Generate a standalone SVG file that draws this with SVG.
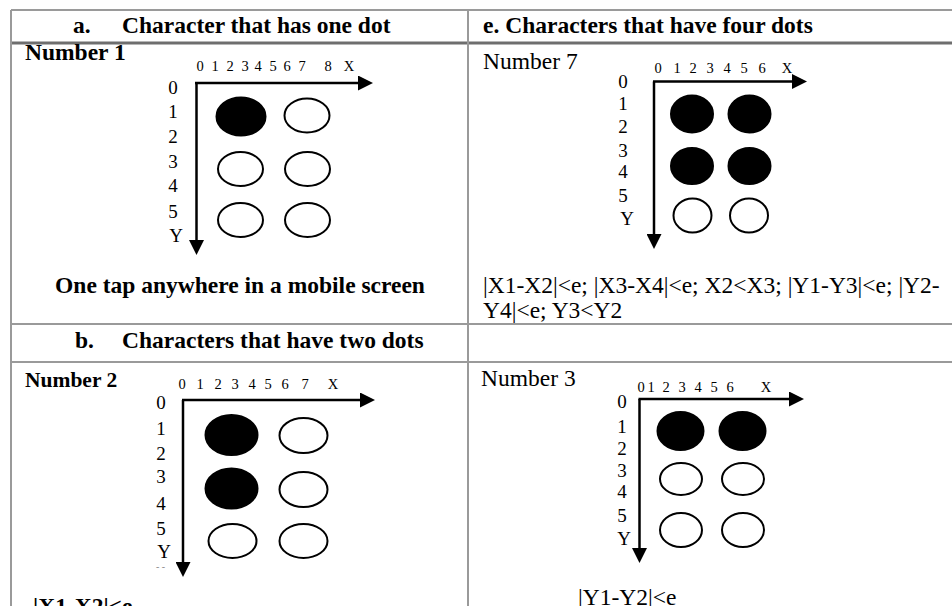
<svg xmlns="http://www.w3.org/2000/svg" width="952" height="606" viewBox="0 0 952 606">
<defs>
<style>
.t{font-family:"Liberation Serif","Times New Roman",serif;fill:#000}
.b{font-weight:bold}
.h{font-size:23.5px}
.ax{font-size:14.5px}
.yl{font-size:19px}
.grid{stroke:#9a9a9a;stroke-width:2;fill:none}
.thick{stroke:#6e6e6e;stroke-width:3;fill:none}
.axis{stroke:#000;stroke-width:2.5;fill:none;marker-end:url(#arr)}
.on{fill:#000;stroke:#000;stroke-width:2}
.off{fill:#fff;stroke:#000;stroke-width:2}
</style>
<marker id="arr" viewBox="0 0 15 15" refX="11" refY="7.5" markerWidth="15" markerHeight="15" markerUnits="userSpaceOnUse" orient="auto">
<path d="M0,0 L15,7.5 L0,15 z" fill="#000"/>
</marker>
</defs>
<rect width="952" height="606" fill="#fff"/>

<g id="table">
<line class="grid" x1="11" y1="10" x2="952" y2="10"/>
<line class="thick" x1="11" y1="43" x2="952" y2="43"/>
<line class="grid" x1="11" y1="324" x2="952" y2="324"/>
<line class="grid" x1="11" y1="362" x2="952" y2="362"/>
<line class="grid" x1="11" y1="10" x2="11" y2="606"/>
<line class="grid" x1="468" y1="10" x2="468" y2="606"/>
</g>

<g id="headers">
<text class="t b h" x="73" y="33">a.</text>
<text class="t b h" x="122" y="33">Character that has one dot</text>
<text class="t b h" x="483" y="33">e. Characters that have four dots</text>
<text class="t b h" x="75" y="348">b.</text>
<text class="t b h" x="122" y="348">Characters that have two dots</text>
</g>

<g id="panel-number1">
<text class="t b h" x="25" y="60">Number 1</text>
<text class="t ax" text-anchor="middle" x="200 207 215 222 230 237 245 251 258 265 273 280 287 294 302 315 328 338 349" y="71">0 1 2 3 4 5 6 7 8 X</text>
<text class="t yl" text-anchor="middle" x="173" y="94">0</text>
<text class="t yl" text-anchor="middle" x="173" y="118">1</text>
<text class="t yl" text-anchor="middle" x="173" y="143">2</text>
<text class="t yl" text-anchor="middle" x="173" y="168">3</text>
<text class="t yl" text-anchor="middle" x="173" y="192">4</text>
<text class="t yl" text-anchor="middle" x="173" y="218">5</text>
<text class="t yl" text-anchor="middle" x="176" y="242">Y</text>
<ellipse class="on" cx="241" cy="116.5" rx="24.5" ry="19"/>
<ellipse class="off" cx="307" cy="115.5" rx="22.5" ry="17"/>
<ellipse class="off" cx="240.5" cy="169" rx="22.5" ry="17"/>
<ellipse class="off" cx="307.5" cy="169" rx="22.5" ry="17"/>
<ellipse class="off" cx="240.5" cy="220" rx="22.5" ry="17"/>
<ellipse class="off" cx="307.5" cy="220" rx="22.5" ry="17"/>
<text class="t b h" text-anchor="middle" x="240" y="293">One tap anywhere in a mobile screen</text>
</g>

<g id="panel-number7">
<text class="t h" x="483" y="69">Number 7</text>
<text class="t ax" text-anchor="middle" x="658 667 677 685 693 701 710 718 727 735 744 753 762 775 787" y="73">0 1 2 3 4 5 6 X</text>
<text class="t yl" text-anchor="middle" x="623" y="88">0</text>
<text class="t yl" text-anchor="middle" x="623" y="110">1</text>
<text class="t yl" text-anchor="middle" x="623" y="133">2</text>
<text class="t yl" text-anchor="middle" x="623" y="157">3</text>
<text class="t yl" text-anchor="middle" x="623" y="178">4</text>
<text class="t yl" text-anchor="middle" x="623" y="202">5</text>
<text class="t yl" text-anchor="middle" x="627" y="225">Y</text>
<ellipse class="on" cx="692" cy="114" rx="21" ry="18.5"/>
<ellipse class="on" cx="749.5" cy="114" rx="21" ry="18.5"/>
<ellipse class="on" cx="692" cy="166" rx="21" ry="18"/>
<ellipse class="on" cx="749.5" cy="166" rx="21" ry="18"/>
<ellipse class="off" cx="692.5" cy="215.5" rx="19" ry="17"/>
<ellipse class="off" cx="749" cy="215.5" rx="19" ry="17"/>
<text class="t h" x="483" y="293">|X1-X2|&lt;e; |X3-X4|&lt;e; X2&lt;X3; |Y1-Y3|&lt;e; |Y2-</text>
<text class="t h" x="483" y="318">Y4|&lt;e; Y3&lt;Y2</text>
</g>

<g id="panel-number2">
<text class="t b" style="font-size:21.5px" x="25" y="387">Number 2</text>
<text class="t ax" text-anchor="middle" x="182 191 200 209 218 226 235 243 252 260 268 276 285 295 305 319 333" y="389">0 1 2 3 4 5 6 7 X</text>
<text class="t yl" text-anchor="middle" x="161" y="409">0</text>
<text class="t yl" text-anchor="middle" x="161" y="435">1</text>
<text class="t yl" text-anchor="middle" x="161" y="460">2</text>
<text class="t yl" text-anchor="middle" x="161" y="483">3</text>
<text class="t yl" text-anchor="middle" x="161" y="510">4</text>
<text class="t yl" text-anchor="middle" x="161" y="535">5</text>
<text class="t yl" text-anchor="middle" x="164" y="558">Y</text>
<text class="t" style="font-size:10px;fill:#888" x="156" y="570">- -</text>
<ellipse class="on" cx="231.5" cy="435" rx="26" ry="20"/>
<ellipse class="off" cx="303.5" cy="435.5" rx="24" ry="17.5"/>
<ellipse class="on" cx="231.5" cy="488.5" rx="26" ry="20"/>
<ellipse class="off" cx="303.5" cy="489.5" rx="24" ry="17.5"/>
<ellipse class="off" cx="232.5" cy="541" rx="24" ry="17"/>
<ellipse class="off" cx="303.5" cy="541" rx="24" ry="17"/>
<text class="t b h" x="33" y="614">|X1-X2|&lt;e</text>
</g>

<g id="panel-number3">
<text class="t h" x="481" y="386">Number 3</text>
<text class="t ax" text-anchor="middle" x="641 646 651 658 666 674 682 690 698 706 714 722 730 748 766" y="392">0 1 2 3 4 5 6 X</text>
<text class="t yl" text-anchor="middle" x="622" y="408">0</text>
<text class="t yl" text-anchor="middle" x="622" y="433">1</text>
<text class="t yl" text-anchor="middle" x="622" y="455">2</text>
<text class="t yl" text-anchor="middle" x="622" y="477">3</text>
<text class="t yl" text-anchor="middle" x="622" y="498">4</text>
<text class="t yl" text-anchor="middle" x="622" y="522">5</text>
<text class="t yl" text-anchor="middle" x="624" y="545">Y</text>
<ellipse class="on" cx="680.5" cy="431" rx="23" ry="19"/>
<ellipse class="on" cx="742.5" cy="431" rx="23" ry="19"/>
<ellipse class="off" cx="681" cy="479" rx="21" ry="16"/>
<ellipse class="off" cx="743" cy="479" rx="21" ry="16"/>
<ellipse class="off" cx="681" cy="530" rx="21" ry="17"/>
<ellipse class="off" cx="743" cy="530" rx="21" ry="17"/>
<text class="t h" x="578" y="605">|Y1-Y2|&lt;e</text>
</g>

<g id="connectors">
<line class="axis" x1="195" y1="83" x2="369" y2="83"/>
<line class="axis" x1="196.5" y1="83" x2="196.5" y2="251"/>
<line class="axis" x1="653" y1="81.5" x2="803" y2="81.5"/>
<line class="axis" x1="654" y1="81.5" x2="654" y2="245"/>
<line class="axis" x1="182" y1="400" x2="371" y2="400"/>
<line class="axis" x1="183" y1="400" x2="183" y2="573"/>
<line class="axis" x1="638.5" y1="399" x2="800" y2="399"/>
<line class="axis" x1="639.5" y1="399" x2="639.5" y2="559"/>
</g>
</svg>
